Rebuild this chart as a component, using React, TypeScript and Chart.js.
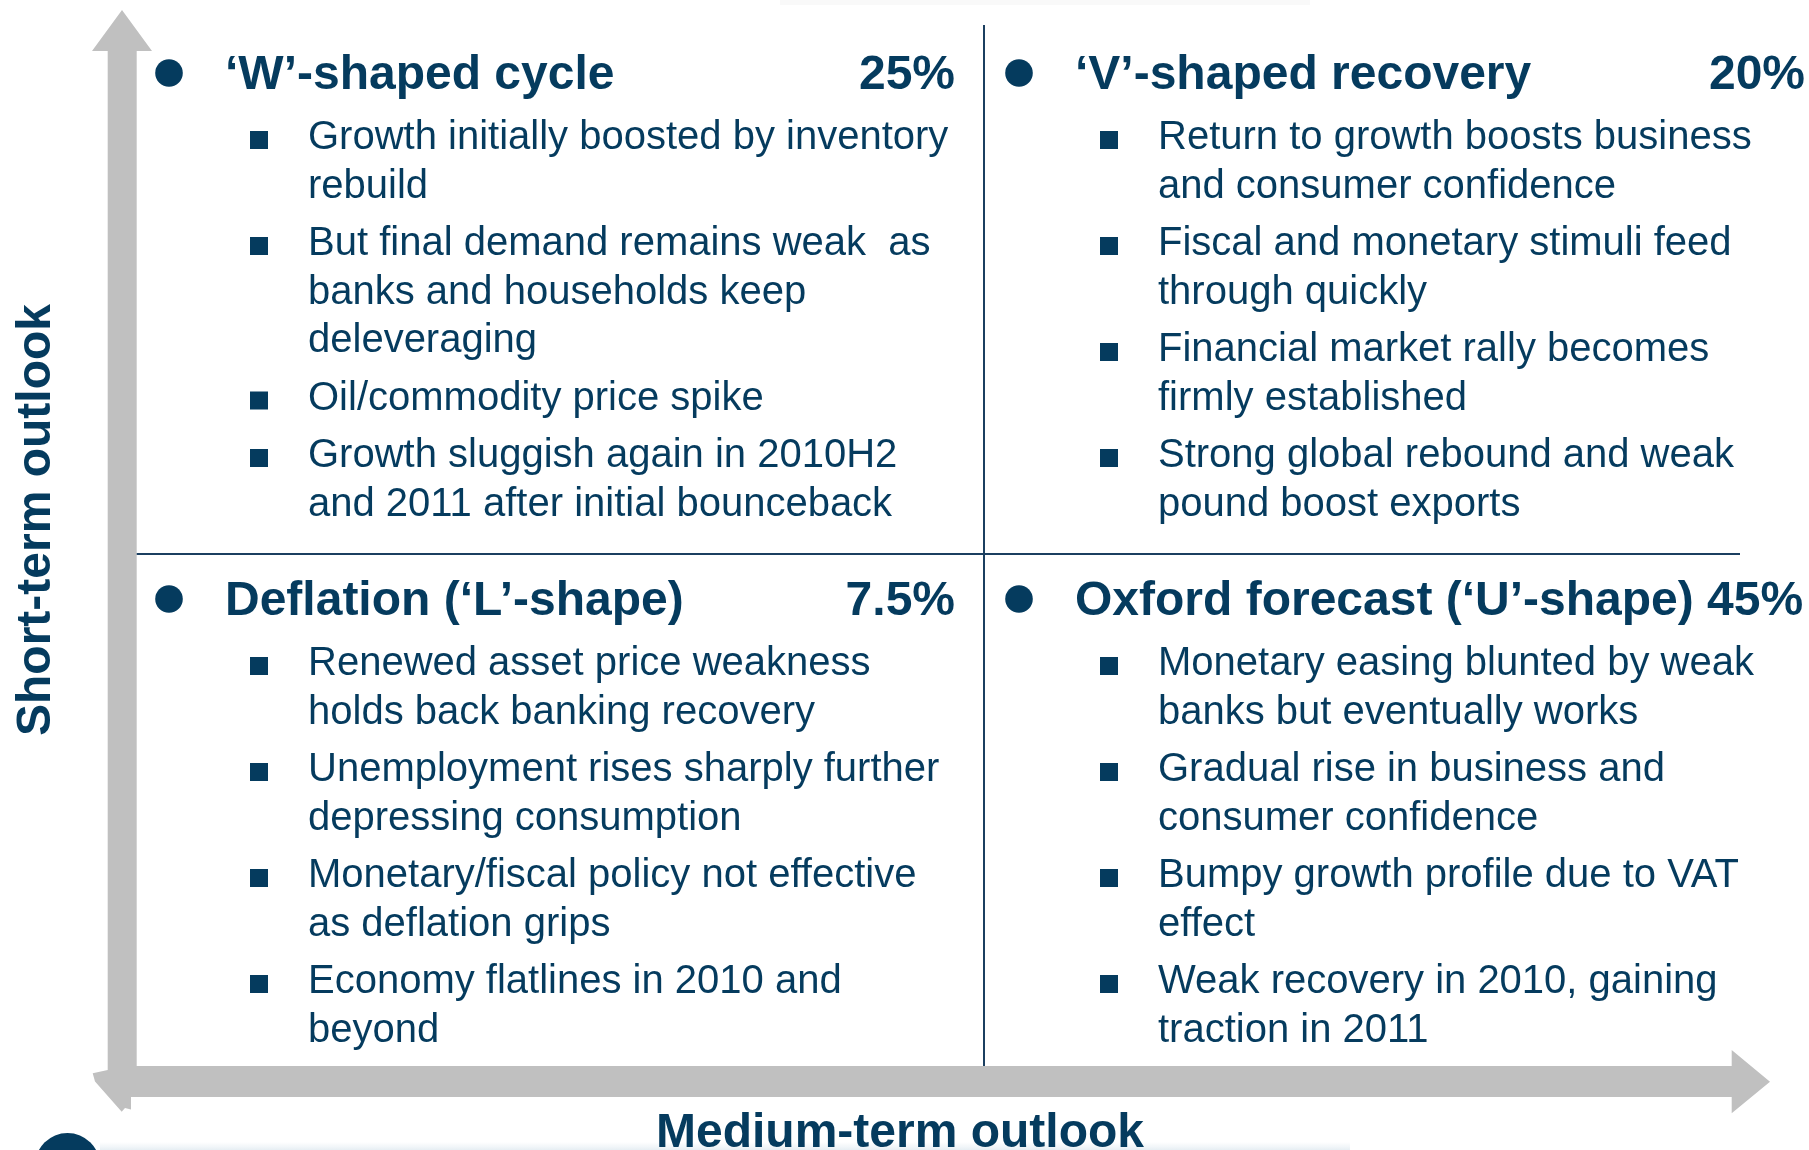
import React, { useEffect, useRef } from "react";
import { Chart, registerables } from "chart.js";

Chart.register(...registerables);

// ---------------- data ----------------
const SCENARIO_TITLES = [
  "‘W’-shaped cycle",
  "‘V’-shaped recovery",
  "Deflation (‘L’-shape)",
  "Oxford forecast (‘U’-shape)",
];
const SCENARIO_PROBABILITIES = [25, 20, 7.5, 45]; // %
const MEDIUM_TERM_COLUMN = [0, 1, 0, 1]; // x: medium-term outlook (0 = weak, 1 = strong)
const SHORT_TERM_ROW = [0, 0, 1, 1]; // y: short-term outlook (0 = top row, 1 = bottom row)
const PROBABILITY_INLINE = [false, false, false, true];

const W_SHAPE_POINTS = [
  ["Growth initially boosted by inventory", "rebuild"],
  ["But final demand remains weak  as", "banks and households keep", "deleveraging"],
  ["Oil/commodity price spike"],
  ["Growth sluggish again in 2010H2", "and 2011 after initial bounceback"],
];
const V_SHAPE_POINTS = [
  ["Return to growth boosts business", "and consumer confidence"],
  ["Fiscal and monetary stimuli feed", "through quickly"],
  ["Financial market rally becomes", "firmly established"],
  ["Strong global rebound and weak", "pound boost exports"],
];
const L_SHAPE_POINTS = [
  ["Renewed asset price weakness", "holds back banking recovery"],
  ["Unemployment rises sharply further", "depressing consumption"],
  ["Monetary/fiscal policy not effective", "as deflation grips"],
  ["Economy flatlines in 2010 and", "beyond"],
];
const U_SHAPE_POINTS = [
  ["Monetary easing blunted by weak", "banks but eventually works"],
  ["Gradual rise in business and", "consumer confidence"],
  ["Bumpy growth profile due to VAT", "effect"],
  ["Weak recovery in 2010, gaining", "traction in 2011"],
];
const SCENARIO_POINTS = [W_SHAPE_POINTS, V_SHAPE_POINTS, L_SHAPE_POINTS, U_SHAPE_POINTS];

const X_AXIS_LABEL = "Medium-term outlook";
const Y_AXIS_LABEL = "Short-term outlook";

// ---------------- layout / style ----------------
const W = 1809;
const H = 1150;
const PAD_LEFT = 134;
const PAD_TOP = 28;
const QUAD_W = 850;
const QUAD_H = 526;
const NAVY = "#053b5e";
const LINE_NAVY = "#1b3f60";
const GREY = "#c0c0c0";
const FONT = '"Liberation Sans", Arial, Helvetica, sans-serif';

const quadrantPlugin = {
  id: "quadrantText",
  beforeDraw(chart: any) {
    const ctx: CanvasRenderingContext2D = chart.ctx;
    const xs = chart.scales.x;
    const ys = chart.scales.y;
    ctx.save();
    // faint header strip and footer band
    ctx.fillStyle = "#f9f9f9";
    ctx.fillRect(780, 0, 530, 5);
    const g = ctx.createLinearGradient(0, 1142, 0, 1150);
    g.addColorStop(0, "rgba(235,241,245,0)");
    g.addColorStop(1, "rgba(230,238,243,1)");
    ctx.fillStyle = g;
    ctx.fillRect(100, 1142, 1250, 8);

    // grey axis arrows
    const midX = xs.getPixelForValue(1);
    const midY = ys.getPixelForValue(1);
    ctx.fillStyle = GREY;
    ctx.beginPath();
    ctx.moveTo(122, 10);
    ctx.lineTo(152, 51);
    ctx.lineTo(136.7, 51);
    ctx.lineTo(136.7, 1066);
    ctx.lineTo(1731.7, 1066);
    ctx.lineTo(1731.7, 1050);
    ctx.lineTo(1770, 1081.7);
    ctx.lineTo(1731.7, 1113.3);
    ctx.lineTo(1731.7, 1097);
    ctx.lineTo(131, 1097);
    ctx.lineTo(131, 1109.5);
    ctx.lineTo(125, 1108);
    ctx.lineTo(121.7, 1111.7);
    ctx.lineTo(95, 1081.5);
    ctx.lineTo(92.7, 1073.3);
    ctx.lineTo(107.7, 1070);
    ctx.lineTo(107.7, 51);
    ctx.lineTo(92, 51);
    ctx.closePath();
    ctx.fill();

    // quadrant dividers
    ctx.strokeStyle = LINE_NAVY;
    ctx.lineWidth = 2;
    ctx.beginPath();
    ctx.moveTo(midX, 25);
    ctx.lineTo(midX, 1066);
    ctx.stroke();
    ctx.beginPath();
    ctx.moveTo(136.7, midY);
    ctx.lineTo(1740, midY);
    ctx.stroke();

    // logo circle at bottom-left
    ctx.fillStyle = NAVY;
    ctx.beginPath();
    ctx.arc(67.5, 1165.5, 32.5, 0, Math.PI * 2);
    ctx.fill();
    ctx.restore();
  },
  afterDraw(chart: any) {
    const ctx: CanvasRenderingContext2D = chart.ctx;
    const meta = chart.getDatasetMeta(0);
    ctx.save();
    ctx.fillStyle = NAVY;
    ctx.textBaseline = "alphabetic";
    meta.data.forEach((pt: any, i: number) => {
      const x0 = pt.x;
      const y0 = pt.y;
      // round bullet
      ctx.beginPath();
      ctx.arc(x0 + 35, y0 + 45, 13.8, 0, Math.PI * 2);
      ctx.fill();
      // title
      ctx.font = `bold 48px ${FONT}`;
      ctx.textAlign = "left";
      const pct = `${SCENARIO_PROBABILITIES[i]}%`;
      if (PROBABILITY_INLINE[i]) {
        ctx.fillText(`${SCENARIO_TITLES[i]} ${pct}`, x0 + 91, y0 + 61);
      } else {
        ctx.fillText(SCENARIO_TITLES[i], x0 + 91, y0 + 61);
        ctx.textAlign = "right";
        ctx.fillText(pct, x0 + 821, y0 + 61);
      }
      // bullet points
      ctx.font = `40px ${FONT}`;
      ctx.textAlign = "left";
      let y = y0 + 121;
      SCENARIO_POINTS[i].forEach((lines: string[]) => {
        ctx.fillRect(x0 + 116, y - 18, 18, 18);
        lines.forEach((line, k) => {
          ctx.fillText(line, x0 + 174, y);
          if (k < lines.length - 1) y += 48.5;
        });
        y += 57.5;
      });
    });

    // axis labels
    ctx.font = `bold 48px ${FONT}`;
    ctx.textAlign = "center";
    ctx.fillText(X_AXIS_LABEL, 900, 1147);
    ctx.save();
    ctx.translate(50, 520);
    ctx.rotate(-Math.PI / 2);
    ctx.fillText(Y_AXIS_LABEL, 0, 0);
    ctx.restore();
    ctx.restore();
  },
};

export default function App() {
  const ref = useRef<HTMLCanvasElement | null>(null);
  useEffect(() => {
    if (!ref.current) return;
    const anchors = SCENARIO_TITLES.map((_, i) => ({
      x: MEDIUM_TERM_COLUMN[i],
      y: SHORT_TERM_ROW[i],
    }));
    const chart = new Chart(ref.current, {
      type: "scatter",
      data: {
        datasets: [
          {
            label: "Scenarios",
            data: anchors,
            pointRadius: 0,
            pointHoverRadius: 0,
          },
        ],
      },
      options: {
        animation: false,
        responsive: false,
        maintainAspectRatio: false,
        devicePixelRatio: 1,
        events: [],
        layout: {
          padding: { left: PAD_LEFT, top: PAD_TOP, right: 0, bottom: H - PAD_TOP - 2 * QUAD_H },
        },
        plugins: { legend: { display: false }, tooltip: { enabled: false }, title: { display: false } },
        scales: {
          x: { type: "linear", display: false, min: 0, max: (W - PAD_LEFT) / QUAD_W },
          y: { type: "linear", display: false, min: 0, max: 2, reverse: true },
        },
      },
      plugins: [quadrantPlugin],
    });
    return () => chart.destroy();
  }, []);
  return (
    <div style={{ position: "absolute", left: 0, top: 0, width: W, height: H, background: "#fff" }}>
      <canvas ref={ref} width={W} height={H} style={{ width: W, height: H, display: "block" }} />
    </div>
  );
}
